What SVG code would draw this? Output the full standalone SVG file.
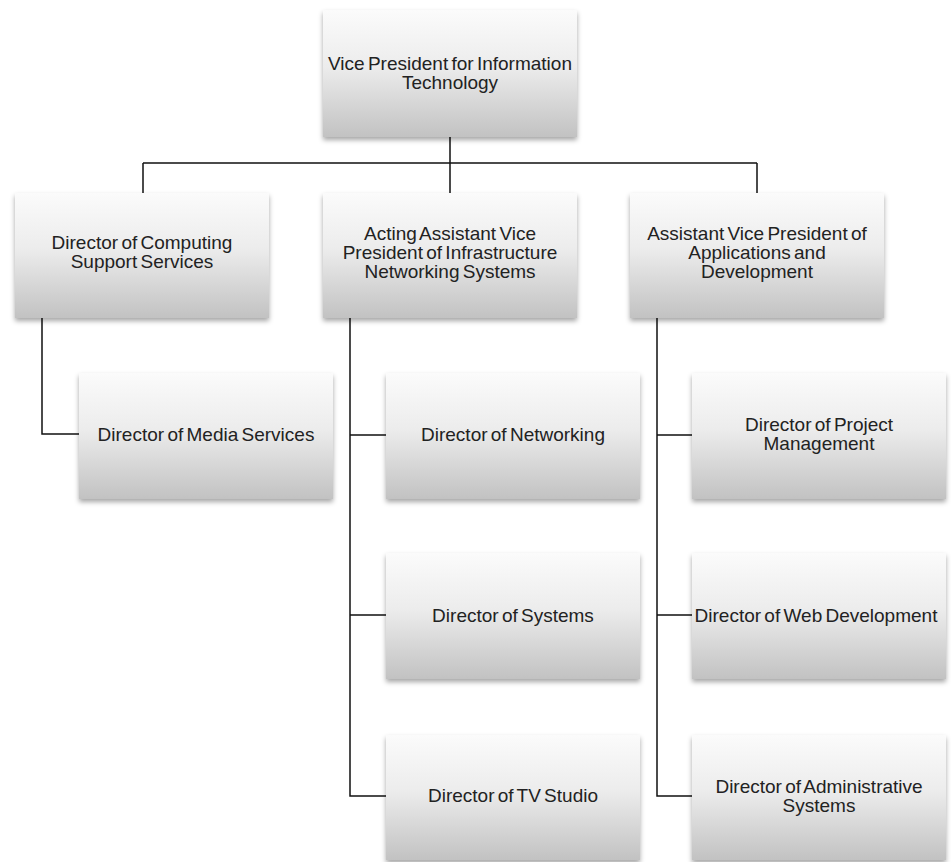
<svg xmlns="http://www.w3.org/2000/svg" width="951" height="862" viewBox="0 0 951 862">
<defs>
<linearGradient id="g" x1="0" y1="0" x2="0" y2="1">
<stop offset="0" stop-color="#fbfbfb"/>
<stop offset="0.45" stop-color="#ececec"/>
<stop offset="1" stop-color="#c2c2c2"/>
</linearGradient>
<filter id="sh" x="-10%" y="-10%" width="120%" height="125%">
<feDropShadow dx="0" dy="3" stdDeviation="2.5" flood-color="#000" flood-opacity="0.35"/>
</filter>
<style>
.box{fill:url(#g);filter:url(#sh);}
.t{font-family:"Liberation Sans",Arial,sans-serif;font-size:19px;fill:#222;text-anchor:middle;word-spacing:-2px;}
.c{stroke:#111;stroke-width:1.5;fill:none;}
</style>
</defs>
<rect width="951" height="862" fill="#fff"/>
<g id="connectors">
<path class="c" d="M450 137V193M143 163H757M143 163V193M757 163V193"/>
<path class="c" d="M42 318V434H79"/>
<path class="c" d="M350 318V796H386M350 435H386M350 615H386"/>
<path class="c" d="M657 318V796H692M657 435H692M657 615H692"/>
</g>
<g id="vp">
<rect class="box" x="323" y="10" width="254" height="127"/>
<text class="t" x="450" y="70">Vice President for Information<tspan x="450" dy="19">Technology</tspan></text>
</g>
<g id="computing">
<rect class="box" x="15" y="193" width="254" height="125"/>
<text class="t" x="142" y="249">Director of Computing<tspan x="142" dy="19">Support Services</tspan></text>
</g>
<g id="infrastructure">
<rect class="box" x="323" y="193" width="254" height="125"/>
<text class="t" x="450" y="240">Acting Assistant Vice<tspan x="450" dy="19">President of Infrastructure</tspan><tspan x="450" dy="19">Networking Systems</tspan></text>
</g>
<g id="applications">
<rect class="box" x="630" y="193" width="254" height="125"/>
<text class="t" x="757" y="240">Assistant Vice President of<tspan x="757" dy="19">Applications and</tspan><tspan x="757" dy="19">Development</tspan></text>
</g>
<g id="media">
<rect class="box" x="79" y="373" width="254" height="126"/>
<text class="t" x="206" y="441">Director of Media Services</text>
</g>
<g id="networking">
<rect class="box" x="386" y="373" width="254" height="126"/>
<text class="t" x="513" y="441">Director of Networking</text>
</g>
<g id="systems">
<rect class="box" x="386" y="553" width="254" height="126"/>
<text class="t" x="513" y="622">Director of Systems</text>
</g>
<g id="tvstudio">
<rect class="box" x="386" y="735" width="254" height="125"/>
<text class="t" x="513" y="802">Director of TV Studio</text>
</g>
<g id="project">
<rect class="box" x="692" y="373" width="254" height="126"/>
<text class="t" x="819" y="431">Director of Project<tspan x="819" dy="19">Management</tspan></text>
</g>
<g id="webdev">
<rect class="box" x="692" y="553" width="254" height="126"/>
<text class="t" x="816" y="622">Director of Web Development</text>
</g>
<g id="admin">
<rect class="box" x="692" y="735" width="254" height="125"/>
<text class="t" x="819" y="793">Director of Administrative<tspan x="819" dy="19">Systems</tspan></text>
</g>
</svg>
